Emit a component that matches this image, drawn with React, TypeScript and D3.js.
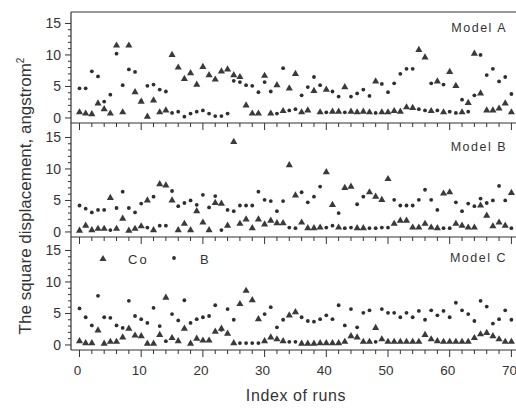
import React from "react";
import * as d3 from "d3";

// runs 0..70, values
const runs = d3.range(0, 71);

const coA = [0.9, 0.7, 0.6, 2.3, 1.4, 0.7, 11.5, 0.9, 11.5, 4.1, 2.6, 0.2, 2.8, 0.9, 1.2, 10.0, 8.0, 6.2, 7.1, 5.3, 8.1, 6.8, 6.1, 7.4, 7.7, 6.8, 6.5, 2.0, 0.7, 0.7, 6.7, 0.7, 5.2, 1.1, 4.7, 7.0, 0.9, 1.2, 4.3, 0.9, 4.5, 1.0, 1.0, 4.9, 1.0, 0.9, 1.0, 0.9, 5.8, 0.9, 0.9, 1.1, 1.0, 1.7, 1.6, 10.8, 9.6, 1.1, 5.8, 0.9, 7.3, 5.1, 0.9, 2.4, 10.2, 3.9, 1.2, 1.2, 1.5, 2.3, 0.9];
const bA = [4.7, 4.7, 7.4, 6.6, 2.6, 3.7, 10.2, 5.2, 7.7, 7.3, 2.7, 5.1, 5.3, 4.5, 4.2, 0.8, 1.0, 0.2, 0.7, 1.0, 1.2, 0.7, 0.3, 0.3, 0.7, 5.9, 5.7, 5.2, 5.1, 4.1, 5.7, 4.2, 0.7, 7.9, 1.2, 1.4, 3.6, 4.9, 6.5, 5.2, 0.9, 4.2, 3.4, 0.9, 3.4, 3.9, 4.5, 3.5, 0.8, 5.4, 4.1, 5.5, 7.0, 7.8, 7.8, 1.4, 1.2, 5.5, 1.2, 5.3, 1.0, 0.8, 2.9, 1.0, 3.6, 10.0, 6.8, 7.8, 5.8, 6.5, 3.8];

const coB = [0.2, 1.0, 0.3, 0.5, 0.5, 5.4, 0.5, 2.1, 0.2, 0.5, 0.9, 5.0, 0.3, 7.6, 7.4, 5.0, 0.3, 1.3, 0.3, 3.3, 1.5, 0.3, 4.6, 4.5, 1.0, 14.3, 1.3, 2.0, 0.6, 2.0, 1.2, 1.8, 1.4, 1.4, 10.6, 5.8, 1.5, 0.6, 0.6, 0.7, 9.5, 4.3, 0.7, 7.0, 7.2, 0.6, 0.6, 6.3, 5.6, 5.1, 8.4, 1.3, 1.8, 1.8, 0.7, 0.7, 1.3, 0.7, 0.6, 6.1, 6.3, 1.3, 1.0, 0.7, 0.7, 4.2, 2.6, 0.9, 1.5, 1.0, 6.2];
const bB = [4.2, 3.7, 3.1, 3.5, 3.5, 0.3, 3.8, 6.4, 3.8, 3.1, 4.5, 0.7, 5.6, 1.0, 1.0, 6.5, 4.1, 4.6, 5.0, 4.3, 5.9, 3.9, 5.7, 0.3, 3.5, 3.3, 4.2, 4.2, 4.2, 6.4, 5.1, 4.9, 3.3, 4.9, 0.7, 0.6, 6.3, 4.7, 5.6, 7.2, 0.7, 1.0, 3.0, 0.6, 0.7, 4.4, 5.6, 0.6, 0.6, 0.7, 0.7, 5.1, 4.2, 4.2, 4.2, 5.1, 6.7, 5.1, 3.5, 0.6, 0.6, 4.7, 3.3, 4.5, 4.1, 5.3, 4.6, 5.0, 7.3, 5.0, 0.6];

const coC = [0.6, 0.3, 0.3, 2.3, 0.2, 0.5, 0.5, 1.2, 2.6, 1.5, 1.4, 0.2, 0.2, 1.6, 7.5, 1.1, 0.6, 2.6, 0.2, 1.0, 0.7, 0.7, 2.1, 2.6, 1.8, 0.3, 6.5, 8.6, 7.1, 4.1, 0.6, 1.2, 0.9, 0.6, 4.7, 5.2, 0.2, 0.2, 0.2, 0.3, 0.3, 0.3, 0.3, 0.5, 1.4, 1.2, 0.5, 0.5, 2.7, 0.9, 0.5, 0.5, 0.5, 0.5, 0.5, 0.5, 1.6, 0.9, 0.6, 0.5, 0.5, 0.5, 0.5, 0.5, 1.1, 1.7, 1.9, 1.4, 0.9, 0.5, 0.5];
const bC = [5.8, 4.4, 3.1, 7.8, 4.4, 4.3, 3.1, 2.7, 7.0, 4.6, 4.1, 3.5, 5.9, 3.0, 0.6, 4.9, 3.9, 7.1, 3.5, 4.1, 4.4, 4.6, 6.3, 2.4, 5.7, 4.0, 0.3, 0.3, 0.3, 0.3, 4.9, 6.0, 2.8, 4.0, 0.5, 0.5, 4.4, 3.8, 3.7, 4.1, 4.7, 4.1, 6.3, 3.1, 5.7, 2.8, 5.1, 5.5, 0.5, 5.7, 5.1, 5.1, 4.4, 5.1, 4.4, 5.4, 4.0, 5.5, 4.7, 5.4, 4.4, 6.7, 5.5, 4.9, 3.8, 7.0, 6.1, 3.4, 4.1, 5.5, 4.0];

const panelNames = ["Model A", "Model B", "Model C"];
const yTicks = [0, 5, 10, 15];
const xTicks = [0, 10, 20, 30, 40, 50, 60, 70];

const panels = [
  { name: panelNames[0], co: coA, b: bA, top: 12, bottom: 123, labelY: 32 },
  { name: panelNames[1], co: coB, b: bB, top: 123, bottom: 237, labelY: 151 },
  { name: panelNames[2], co: coC, b: bC, top: 237, bottom: 350, labelY: 262 },
];

const ink = "#333";
const font = "'Liberation Sans', Arial, sans-serif";

export default function App() {
  const width = 516,
    height = 408;
  const left = 71,
    right = 530;

  const x = d3.scaleLinear().domain([0, 70]).range([79.5, 511.4]);
  const tri = d3.symbol().type(d3.symbolTriangle).size(22)();

  return (
    <svg
      width={width}
      height={height}
      style={{ position: "absolute", left: 0, top: 0, background: "#fff", overflow: "hidden" }}
      fontFamily={font}
    >
      <line x1={left} x2={right} y1={12} y2={12} stroke={ink} strokeWidth={1.2} />
      <line x1={left} x2={left} y1={12} y2={350} stroke={ink} strokeWidth={1.2} />

      {panels.map((p) => {
        const y = d3
          .scaleLinear()
          .domain([-0.8, 16.7])
          .range([p.bottom, p.bottom - 17.5 * 6.3]);
        const minorY = d3.range(0, 16).filter((v) => v % 5 !== 0);
        const minorX = d3.range(0, 72, 2).filter((v) => v % 10 !== 0);
        return (
          <g key={p.name}>
            <line x1={left} x2={right} y1={p.bottom} y2={p.bottom} stroke={ink} strokeWidth={1.2} />
            {/* y ticks */}
            {yTicks.map((t) => (
              <g key={t}>
                <line x1={left - 6} x2={left} y1={y(t)} y2={y(t)} stroke={ink} />
                <text x={left - 10} y={y(t) + 5} fontSize={14} textAnchor="end" fill={ink}>
                  {t}
                </text>
              </g>
            ))}
            {minorY.map((t) => (
              <line key={t} x1={left - 3} x2={left} y1={y(t)} y2={y(t)} stroke={ink} />
            ))}
            {/* x ticks */}
            {xTicks.map((t) => (
              <line key={t} x1={x(t)} x2={x(t)} y1={p.bottom} y2={p.bottom + 7} stroke={ink} />
            ))}
            {minorX.map((t) => (
              <line key={t} x1={x(t)} x2={x(t)} y1={p.bottom} y2={p.bottom + 4} stroke={ink} />
            ))}
            {/* B points */}
            {runs.map((r) => (
              <circle key={"b" + r} cx={x(r)} cy={y(p.b[r])} r={1.9} fill="#2e2e2e" />
            ))}
            {/* Co points */}
            {runs.map((r) => (
              <path
                key={"c" + r}
                d={tri}
                transform={`translate(${x(r)},${y(p.co[r])})`}
                fill="#3a3a3a"
              />
            ))}
            <text
              x={507}
              y={p.labelY}
              fontSize={12.5}
              textAnchor="end"
              letterSpacing={1.5}
              fill={ink}
            >
              {p.name}
            </text>
          </g>
        );
      })}

      {/* legend */}
      <path d={tri} transform="translate(103,259)" fill="#3a3a3a" />
      <text x={128} y={264} fontSize={13} letterSpacing={2} fill={ink}>
        Co
      </text>
      <circle cx={174} cy={258} r={1.9} fill="#2e2e2e" />
      <text x={200} y={264} fontSize={13} fill={ink}>
        B
      </text>

      {xTicks.map((t) => (
        <text key={t} x={x(t) - 2} y={375} fontSize={13.5} textAnchor="middle" fill={ink}>
          {t}
        </text>
      ))}

      <text x={296} y={401} fontSize={16} textAnchor="middle" letterSpacing={0.6} fill={ink}>
        Index of runs
      </text>

      <text
        transform="translate(31,196) rotate(-90)"
        fontSize={17}
        textAnchor="middle"
        fill={ink}
      >
        The square displacement, angstrom
        <tspan dy={-7} fontSize={10}>
          2
        </tspan>
      </text>
    </svg>
  );
}
